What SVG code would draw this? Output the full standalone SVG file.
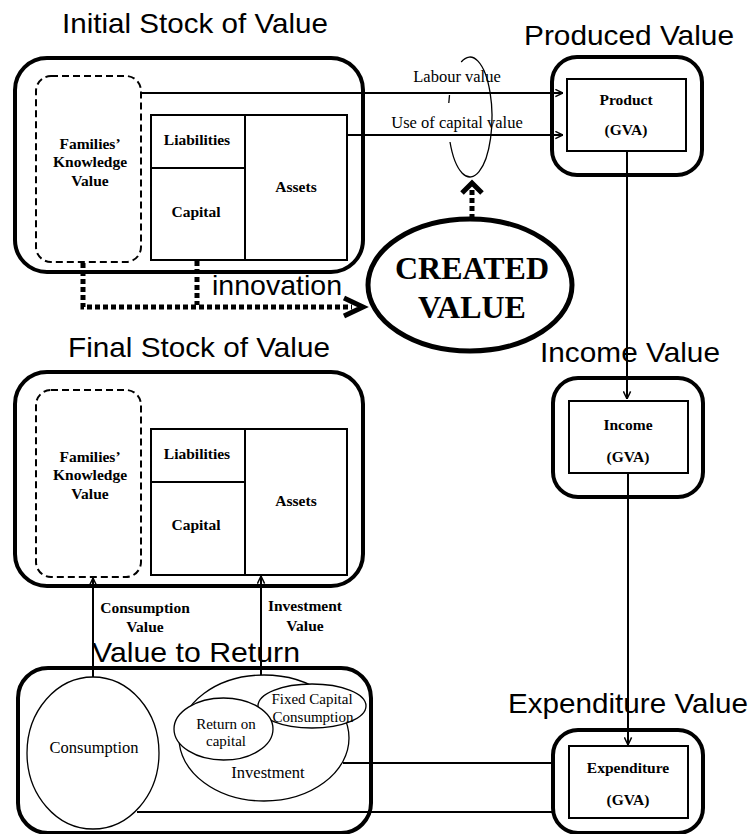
<svg xmlns="http://www.w3.org/2000/svg" width="753" height="834" viewBox="0 0 753 834">
<defs>
<style>
.title{font-family:"Liberation Sans",Arial,sans-serif;font-size:28px;fill:#000}
.lb{font-family:"Liberation Serif","Times New Roman",serif;font-size:15.5px;font-weight:bold;fill:#000;text-anchor:middle}
.lr{font-family:"Liberation Serif","Times New Roman",serif;font-size:16.5px;fill:#000;text-anchor:middle}
.outer{fill:#fff;stroke:#000;stroke-width:4}
.inner{fill:none;stroke:#000;stroke-width:2}
.dash{fill:none;stroke:#000;stroke-width:2;stroke-dasharray:7 4}
.thin{fill:#fff;stroke:#000;stroke-width:1.3}
.line{fill:none;stroke:#000;stroke-width:2}
.dot{fill:none;stroke:#000;stroke-width:5;stroke-dasharray:5 3}
.head{fill:none;stroke:#000;stroke-width:5;stroke-linejoin:miter}
</style>
<marker id="arr" viewBox="0 0 10 10" refX="9.5" refY="5" markerWidth="9" markerHeight="9" markerUnits="userSpaceOnUse" orient="auto">
<path d="M1,1 L9.5,5 L1,9" fill="none" stroke="#000" stroke-width="1.6"/>
</marker>
</defs>
<rect width="753" height="834" fill="#fff"/>

<g id="initial-stock">
<text class="title" x="62" y="33" textLength="266" lengthAdjust="spacingAndGlyphs">Initial Stock of Value</text>
<rect class="outer" x="15" y="58" width="348" height="214" rx="32"/>
<rect class="dash" x="36" y="76" width="105" height="186" rx="15"/>
<text class="lb" x="90" y="149">Families’</text>
<text class="lb" x="90" y="167">Knowledge</text>
<text class="lb" x="90" y="186">Value</text>
<rect class="inner" x="151" y="115" width="196" height="145"/>
<line class="inner" x1="245" y1="115" x2="245" y2="260"/>
<line class="inner" x1="151" y1="168" x2="245" y2="168"/>
<text class="lb" x="197" y="145">Liabilities</text>
<text class="lb" x="196" y="217">Capital</text>
<text class="lb" x="296" y="192">Assets</text>
</g>

<g id="final-stock">
<text class="title" x="68" y="357" textLength="262" lengthAdjust="spacingAndGlyphs">Final Stock of Value</text>
<rect class="outer" x="15" y="372" width="348" height="214" rx="32"/>
<rect class="dash" x="36" y="390" width="105" height="187" rx="15"/>
<text class="lb" x="90" y="462">Families’</text>
<text class="lb" x="90" y="480">Knowledge</text>
<text class="lb" x="90" y="499">Value</text>
<rect class="inner" x="151" y="429" width="196" height="146"/>
<line class="inner" x1="245" y1="429" x2="245" y2="575"/>
<line class="inner" x1="151" y1="482" x2="245" y2="482"/>
<text class="lb" x="197" y="459">Liabilities</text>
<text class="lb" x="196" y="530">Capital</text>
<text class="lb" x="296" y="506">Assets</text>
</g>

<g id="produced-value">
<text class="title" x="524" y="45" textLength="210" lengthAdjust="spacingAndGlyphs">Produced Value</text>
<rect class="outer" x="552" y="57" width="150" height="118" rx="25"/>
<rect class="inner" x="567" y="79" width="119" height="72"/>
<text class="lb" x="626" y="105">Product</text>
<text class="lb" x="626" y="135">(GVA)</text>
</g>

<g id="income-value">
<text class="title" x="540" y="362" textLength="180" lengthAdjust="spacingAndGlyphs">Income Value</text>
<rect class="outer" x="553" y="378" width="150" height="119" rx="25"/>
<rect class="inner" x="569" y="401" width="119" height="72"/>
<text class="lb" x="628" y="430">Income</text>
<text class="lb" x="628" y="462">(GVA)</text>
</g>

<g id="expenditure-value">
<text class="title" x="508" y="713" textLength="240" lengthAdjust="spacingAndGlyphs">Expenditure Value</text>
<rect class="outer" x="553" y="730" width="150" height="103" rx="25"/>
<rect class="inner" x="569" y="746" width="119" height="72"/>
<text class="lb" x="628" y="773">Expenditure</text>
<text class="lb" x="628" y="805">(GVA)</text>
</g>

<g id="value-to-return">
<text class="title" x="92" y="662" textLength="208" lengthAdjust="spacingAndGlyphs">Value to Return</text>
<rect class="outer" x="18" y="668" width="353" height="165" rx="30"/>
<ellipse class="thin" cx="93" cy="753" rx="66" ry="76"/>
<text class="lr" x="94" y="753">Consumption</text>
<ellipse class="thin" cx="264" cy="738" rx="85" ry="63"/>
<text class="lr" x="268" y="778">Investment</text>
<ellipse class="thin" cx="312" cy="706" rx="54" ry="22"/>
<text class="lr" x="312" y="704" style="font-size:15px">Fixed Capital</text>
<text class="lr" x="313" y="722" style="font-size:15px">Consumption</text>
<ellipse class="thin" cx="223.5" cy="729" rx="49.5" ry="31"/>
<text class="lr" x="226" y="729" style="font-size:15px">Return on</text>
<text class="lr" x="226" y="746" style="font-size:15px">capital</text>
</g>

<g id="created-value">
<ellipse cx="470" cy="285" rx="102" ry="66" fill="#fff" stroke="#000" stroke-width="5"/>
<text x="472" y="279" style="font-family:'Liberation Serif','Times New Roman',serif;font-size:32px;font-weight:bold;text-anchor:middle">CREATED</text>
<text x="472" y="318" style="font-family:'Liberation Serif','Times New Roman',serif;font-size:32px;font-weight:bold;text-anchor:middle">VALUE</text>
</g>

<g id="connectors">
<path class="line" d="M141,93 H563" marker-end="url(#arr)"/>
<path class="line" d="M347,135 H563" marker-end="url(#arr)"/>
<text class="lr" x="457" y="82">Labour value</text>
<text class="lr" x="457" y="128">Use of capital value</text>
<path d="M461.2,62 A22,60 0 1 1 450,142" fill="none" stroke="#000" stroke-width="1.3"/>
<path d="M449.5,95 L448.8,103" fill="none" stroke="#000" stroke-width="1.3"/>
<path class="line" d="M627,151 V399" marker-end="url(#arr)"/>
<path class="line" d="M628,473 V745" marker-end="url(#arr)"/>
<path class="line" d="M93,677 V578" marker-end="url(#arr)"/>
<path class="line" d="M261,675 V576" marker-end="url(#arr)"/>
<text class="lb" x="145" y="613">Consumption</text>
<text class="lb" x="145" y="632">Value</text>
<text class="lb" x="305" y="611">Investment</text>
<text class="lb" x="305" y="631">Value</text>
<path class="line" d="M343,763 H553"/>
<path class="line" d="M137,812 H553"/>
<path class="dot" d="M83,263 V307 H352"/>
<path class="dot" d="M197,261 V305"/>
<path class="head" d="M344,298 L363,307 L344,316"/>
<text class="title" x="212" y="295" textLength="130" lengthAdjust="spacingAndGlyphs">innovation</text>
<path class="dot" d="M472,219 V188"/>
<path class="head" d="M462,193 L472,183 L482,193"/>
</g>
</svg>
